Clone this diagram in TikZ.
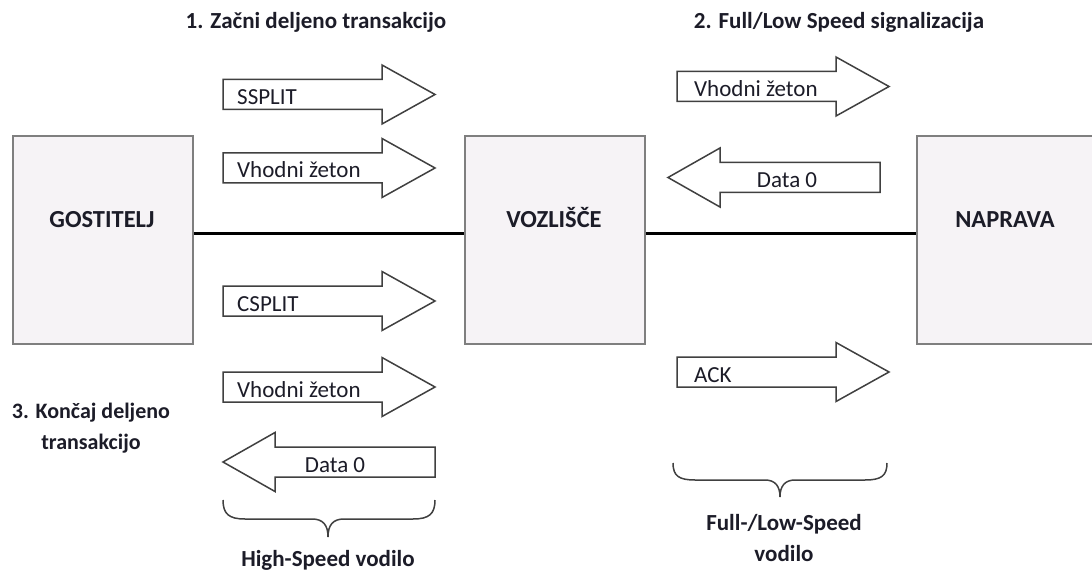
\documentclass[tikz,border=0pt]{standalone}
\usepackage{fontspec}
\setmainfont{Carlito}
\begin{document}
\begin{tikzpicture}[x=1pt,y=-1pt,
  unitbox/.style={draw=boxedge, line width=1.6pt, fill=boxfill, inner sep=0pt},
  boxlabel/.style={anchor=base, font=\fontsize{24.5}{28}\selectfont\bfseries, text=ink},
  steplabel/.style={anchor=base, font=\fontsize{23}{27}\selectfont\bfseries, text=ink, align=center},
  arrowtext/.style={font=\fontsize{23}{27}\selectfont, text=ink, inner sep=0pt},
  blockarrow/.style={draw=arrowedge, line width=1.5pt, fill=white, line join=miter},
  bus/.style={line width=3pt, black},
  bracket/.style={draw=arrowedge, line width=1.5pt},
  rarrow/.pic={\path[blockarrow] (0,-15) -- (159,-15) -- (159,-29.5) -- (212,0)
     -- (159,29.5) -- (159,15) -- (0,15) -- cycle;},
  larrow/.pic={\path[blockarrow] (212,-15) -- (52,-15) -- (52,-29.5) -- (0,0)
     -- (52,29.5) -- (52,15) -- (212,15) -- cycle;}]
\definecolor{boxedge}{HTML}{7F7F7F}
\definecolor{boxfill}{HTML}{F6F3F6}
\definecolor{arrowedge}{HTML}{404040}
\definecolor{ink}{HTML}{1C1C28}
\clip (0,0) rectangle (1092,572);
\fill[white] (0,0) rectangle (1092,572);

% the three units
\node[unitbox, minimum width=180pt, minimum height=208pt] (host) at (103,240) {};
\node[unitbox, minimum width=180pt, minimum height=208pt] (hub)  at (555,240) {};
\node[unitbox, minimum width=190pt, minimum height=208pt] (dev)  at (1012,240) {};
\node[boxlabel] (hostlbl) at (102,227) {GOSTITELJ};
\node[boxlabel] (hublbl)  at (554,227) {VOZLIŠČE};
\node[boxlabel] (devlbl)  at (1005,227) {NAPRAVA};

% buses between the units
\coordinate (busy) at (0,233);
\draw[bus] (host.east |- busy) -- (hub.west |- busy);
\draw[bus] (hub.east |- busy) -- (dev.west |- busy);

% step headings
\node[steplabel] (step1) at (316,29) {1. Začni deljeno transakcijo};
\node[steplabel] (step2) at (839,29) {2. Full/Low Speed signalizacija};
\node[steplabel, font=\fontsize{22}{26}\selectfont\bfseries] (step3a) at (91,418) {3. Končaj deljeno};
\node[steplabel, font=\fontsize{22}{26}\selectfont\bfseries] (step3b) at (91,449) {transakcijo};

% high-speed side
\pic at (223,94.5) {rarrow};
\node[arrowtext, anchor=base west] (ssplit) at (237,104.5) {SSPLIT};
\pic at (223,168) {rarrow};
\node[arrowtext, anchor=base west] (intok1) at (237,178) {Vhodni žeton};
\pic at (223,301) {rarrow};
\node[arrowtext, anchor=base west] (csplit) at (237,311) {CSPLIT};
\pic at (223,387) {rarrow};
\node[arrowtext, anchor=base west] (intok2) at (237,397) {Vhodni žeton};
\pic at (223,462) {larrow};
\node[arrowtext, anchor=base] (data1) at (335,472) {Data 0};

% full/low-speed side
\pic at (677,86.5) {rarrow};
\node[arrowtext, anchor=base west] (intok3) at (694,96.5) {Vhodni žeton};
\pic at (668,177.5) {larrow};
\node[arrowtext, anchor=base] (data2) at (787,187.5) {Data 0};
\pic at (677,372) {rarrow};
\node[arrowtext, anchor=base west] (ack) at (694,382) {ACK};

% braces under the two buses
\draw[bracket] (223,500) .. controls (223,514) and (229,519) .. (245,519)
  -- (312,519) .. controls (323,519) and (328,525) .. (328,537)
  .. controls (328,525) and (333,519) .. (344,519)
  -- (413,519) .. controls (429,519) and (435,514) .. (435,500);
\draw[bracket] (673,463) .. controls (673,476) and (679,480) .. (695,480)
  -- (765,480) .. controls (775,480) and (780,486) .. (780,497)
  .. controls (780,486) and (785,480) .. (795,480)
  -- (865,480) .. controls (881,480) and (887,476) .. (887,463);
\node[steplabel] (hsbus) at (328,566) {High-Speed vodilo};
\node[steplabel] (flbus1) at (784,530) {Full-/Low-Speed};
\node[steplabel] (flbus2) at (784,561) {vodilo};
\end{tikzpicture}
\end{document}
